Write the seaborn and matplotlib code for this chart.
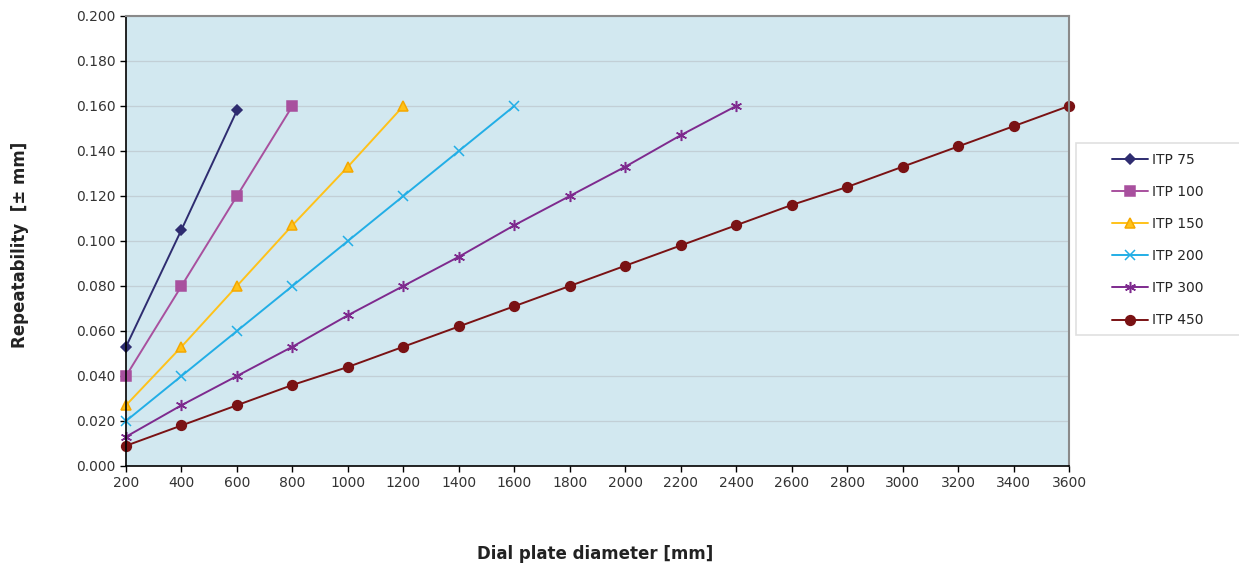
import matplotlib
matplotlib.use("Agg")
import matplotlib.pyplot as plt
from matplotlib.patches import Rectangle
import seaborn as sns
import pandas as pd
import numpy as np

# data
diameters = [200, 400, 600, 800, 1000, 1200, 1400, 1600, 1800, 2000,
             2200, 2400, 2600, 2800, 3000, 3200, 3400, 3600]
itp75 = [0.053, 0.105, 0.158]
itp100 = [0.040, 0.080, 0.120, 0.160]
itp150 = [0.027, 0.053, 0.080, 0.107, 0.133, 0.160]
itp200 = [0.020, 0.040, 0.060, 0.080, 0.100, 0.120, 0.140, 0.160]
itp300 = [0.013, 0.027, 0.040, 0.053, 0.067, 0.080, 0.093, 0.107,
          0.120, 0.133, 0.147, 0.160]
itp450 = [0.009, 0.018, 0.027, 0.036, 0.044, 0.053, 0.062, 0.071, 0.080,
          0.089, 0.098, 0.107, 0.116, 0.124, 0.133, 0.142, 0.151, 0.160]

series = {
    "ITP 75": itp75,
    "ITP 100": itp100,
    "ITP 150": itp150,
    "ITP 200": itp200,
    "ITP 300": itp300,
    "ITP 450": itp450,
}

rows = []
for name, vals in series.items():
    for d, v in zip(diameters, vals):
        rows.append({"diameter": d, "repeatability": v, "series": name})
df = pd.DataFrame(rows)

colors = {
    "ITP 75": "#2E2C70",
    "ITP 100": "#A8509E",
    "ITP 150": "#FFC21A",
    "ITP 200": "#22AEE6",
    "ITP 300": "#7E2A8E",
    "ITP 450": "#7A1214",
}
markers = {
    "ITP 75": "D",
    "ITP 100": "s",
    "ITP 150": "^",
    "ITP 200": "x",
    "ITP 300": (6, 2, 0),
    "ITP 450": "o",
}
sizes = {"ITP 75": 5.5, "ITP 100": 6.5, "ITP 150": 7.5, "ITP 200": 7,
         "ITP 300": 8, "ITP 450": 7}

sns.set_style("white")
plt.rcParams["font.family"] = ["DejaVu Sans"]

fig = plt.figure(figsize=(12.39, 5.63), dpi=100)
ax = fig.add_axes([0.1017, 0.1723, 0.7611, 0.7993])
ax.set_facecolor("#D2E8F0")
ax.yaxis.grid(True, color="#C2CFD6", linewidth=0.9)
ax.set_axisbelow(True)

for name in series:
    sub = df[df["series"] == name]
    kw = dict(markeredgecolor=colors[name])
    if name == "ITP 150":
        kw["markeredgecolor"] = "#F5A800"
    sns.lineplot(data=sub, x="diameter", y="repeatability", ax=ax,
                 color=colors[name], marker=markers[name],
                 markersize=sizes[name], linewidth=1.4, label=name,
                 markeredgewidth=1.1, clip_on=False, **kw)

ax.set_xlim(200, 3600)
ax.set_ylim(0, 0.2)
ax.set_xticks(np.arange(200, 3601, 200))
ax.set_yticks(np.arange(0, 0.2001, 0.02))
ax.set_yticklabels([f"{v:.3f}" for v in np.arange(0, 0.2001, 0.02)])
ax.tick_params(axis="both", which="both", direction="out", length=4,
               width=1, colors="black", labelsize=10, labelcolor="#333333",
               bottom=True, left=True)

for side in ["left", "bottom"]:
    ax.spines[side].set_color("black")
    ax.spines[side].set_linewidth(1.2)
for side in ["top", "right"]:
    ax.spines[side].set_color("#8A8A8A")
    ax.spines[side].set_linewidth(1.5)

ax.set_xlabel("")
ax.set_ylabel("")
fig.text(0.48, 0.016, "Dial plate diameter [mm]", ha="center", va="center",
         fontsize=12, fontweight="bold", color="#222222")
fig.text(0.016, 0.565, "Repeatability  [\u00b1 mm]", ha="center", va="center",
         rotation=90, fontsize=12, fontweight="bold", color="#222222")

ax.get_legend().remove()
handles, labels = ax.get_legend_handles_labels()

# legend frame drawn separately so it can run off the right edge
fig.patches.append(Rectangle((0.8685, 0.405), 0.14, 0.341,
                             transform=fig.transFigure, facecolor="white",
                             edgecolor="#E0E0E0", linewidth=1.2))
leg = fig.legend(handles, labels, loc="upper left",
                 bbox_to_anchor=(0.8975, 0.728), frameon=False, fontsize=10,
                 labelspacing=1.3, handlelength=2.6, borderpad=0,
                 borderaxespad=0, handletextpad=0.3)

fig.savefig("out.png", dpi=100)
